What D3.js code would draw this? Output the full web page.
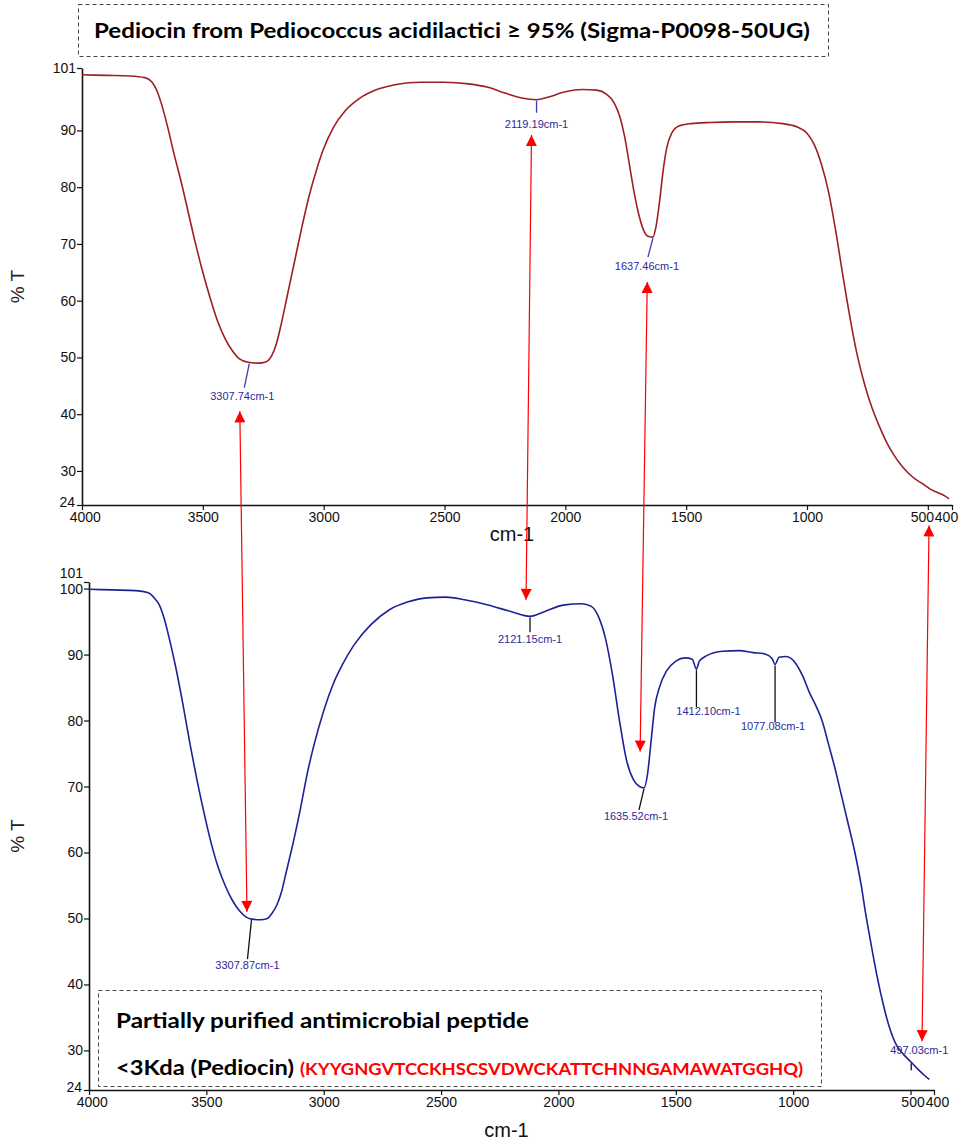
<!DOCTYPE html>
<html>
<head>
<meta charset="utf-8">
<script src="https://cdn.jsdelivr.net/npm/d3@7"></script>
<style>
  body { margin: 0; background: #fff; }
  svg { display: block; }
</style>
</head>
<body>
<svg id="chart" width="974" height="1141"></svg>
<script>
// wavenumber (cm-1), %T
var topSpectrum = [
  [4000,99.8],[3900,99.7],[3800,99.6],[3740,99.3],[3710,98.5],[3690,97],[3670,94.5],[3645,90.5],
  [3620,86],[3590,81],[3560,75.5],[3530,70],[3500,65],[3470,60.5],[3440,56.5],[3410,53.5],
  [3380,51.3],[3350,49.8],[3307.74,49.1],[3270,49],[3240,49.2],[3215,50.3],[3195,52.5],[3175,56],
  [3150,61],[3120,67],[3090,73],[3060,78.5],[3030,83],[3000,86.8],[2960,90.5],[2910,93.5],
  [2850,95.7],[2780,97.2],[2700,98.1],[2600,98.5],[2500,98.5],[2400,98.2],[2320,97.6],[2250,96.6],
  [2180,95.7],[2119.19,95.4],[2070,95.9],[2000,96.8],[1930,97.2],[1870,97.1],[1830,96.4],[1800,95],
  [1775,92.5],[1755,89],[1735,84],[1715,79],[1695,75],[1675,72.3],[1655,71.3],[1637.46,71.2],
  [1625,73],[1610,77.5],[1595,83],[1580,87],[1560,89.5],[1530,90.8],[1480,91.2],[1400,91.4],
  [1300,91.5],[1200,91.5],[1100,91.2],[1040,90.6],[1000,89.5],[970,87.5],[940,84],[910,79],
  [880,72],[850,64],[820,56.5],[790,50],[760,45],[730,41],[700,37.8],[670,35],[640,32.8],
  [610,31],[580,29.6],[550,28.5],[520,27.7],[490,26.8],[460,26.2],[430,25.6],[412,25.1]
];

var bottomSpectrum = [
  [4000,99.9],[3900,99.8],[3800,99.7],[3750,99.4],[3720,98.5],[3700,97.5],[3680,95.5],[3655,92],
  [3630,88],[3600,82.5],[3570,76.5],[3540,71],[3510,66],[3480,61.5],[3450,57.8],[3420,55],
  [3390,52.8],[3360,51.2],[3330,50.2],[3307.87,49.9],[3270,49.8],[3240,50],[3220,50.8],[3200,52],
  [3180,54],[3160,57],[3130,61.5],[3100,66.5],[3070,72],[3040,76.5],[3000,81.5],[2960,85.5],
  [2920,88.5],[2870,91.5],[2800,94.5],[2720,96.8],[2640,98],[2560,98.6],[2480,98.7],[2400,98.3],
  [2300,97.5],[2200,96.5],[2121.15,95.8],[2060,96.5],[1980,97.5],[1900,97.7],[1860,97.3],[1830,95.8],
  [1800,92.5],[1770,87],[1740,80],[1710,74],[1680,71],[1655,70],[1635.52,69.8],[1620,72],
  [1605,77],[1590,82],[1570,85],[1540,87.5],[1500,89],[1460,89.5],[1430,89.3],[1412.1,87.8],
  [1400,89],[1370,89.8],[1300,90.5],[1230,90.6],[1170,90.3],[1120,90.1],[1090,89.4],[1077.08,88.5],
  [1060,89.6],[1030,89.7],[990,88.7],[960,86.8],[930,84.2],[900,82],[877,80],[850,76.5],
  [820,72.5],[800,69.5],[770,65],[737,60],[710,55],[690,50.5],[665,45.5],[640,40.8],
  [615,36.8],[590,33.5],[560,30.8],[530,29.4],[497.03,28.2],[470,27.2],[440,26.2],[420,25.6]
];

var xTicks = [4000, 3500, 3000, 2500, 2000, 1500, 1000, 500, 400];
var topYTicks = [101, 90, 80, 70, 60, 50, 40, 30, 24];
var bottomYTicks = [101, 100, 90, 80, 70, 60, 50, 40, 30, 24];

var topPeaks = [3307.74, 2119.19, 1637.46];
var topPeakLabels = ["3307.74cm-1", "2119.19cm-1", "1637.46cm-1"];
var bottomPeaks = [3307.87, 2121.15, 1635.52, 1412.10, 1077.08, 497.03];
var bottomPeakLabels = ["3307.87cm-1", "2121.15cm-1", "1635.52cm-1", "1412.10cm-1", "1077.08cm-1", "497.03cm-1"];

// arrows: [top wn, top %T, bottom wn, bottom %T]
var arrowLinks = [
  [3347, 40.5, 3327, 51],
  [2140, 89.2, 2138, 98.3],
  [1661, 63.3, 1652, 75.3],
  [495, 20.4, 451, 31.4]
];

var svg = d3.select("#chart");

var topX = d3.scaleLinear().domain([4000, 400]).range([82, 952]);
var topY = d3.scaleLinear().domain([24, 101]).range([505, 68]);
var botX = d3.scaleLinear().domain([4000, 400]).range([89, 934]);
var botY = d3.scaleLinear().domain([24, 101]).range([1090, 582]);

var axisFont = "'Liberation Sans', Arial, sans-serif";
var boxFont = "Lato, 'Open Sans', sans-serif";

// title box
svg.append("rect").attr("x", 78.5).attr("y", 4.5).attr("width", 750).attr("height", 52)
  .attr("fill", "none").attr("stroke", "#444").attr("stroke-dasharray", "4,3");
svg.append("text").attr("x", 94).attr("y", 38)
  .attr("font-family", boxFont).attr("font-weight", "bold").attr("font-size", 20)
  .attr("textLength", 716).attr("lengthAdjust", "spacingAndGlyphs")
  .text("Pediocin from Pediococcus acidilactici \u2265 95% (Sigma-P0098-50UG)");

function drawPanel(x, y, yTicks, data, color, cmLabelY, shift500, shift400) {
  var g = svg.append("g");
  var yAxis = d3.axisLeft(y).tickValues(yTicks).tickFormat(d3.format("d")).tickSize(5).tickSizeOuter(0);
  var xAxis = d3.axisBottom(x).tickValues(xTicks).tickFormat(d3.format("d")).tickSize(5).tickSizeOuter(0);

  var ya = g.append("g").attr("transform", "translate(" + x.range()[0] + ",0)").call(yAxis);
  var xa = g.append("g").attr("transform", "translate(0," + y.range()[0] + ")").call(xAxis);

  [ya, xa].forEach(function(a) {
    a.select(".domain").attr("stroke", "#111").attr("stroke-width", 1.6);
    a.selectAll(".tick line").attr("stroke", "#111").attr("stroke-width", 1.2);
    a.selectAll("text").attr("font-family", axisFont).attr("font-size", 14).attr("fill", "#111");
  });
  ya.selectAll(".tick text").attr("x", -6);
  xa.selectAll(".tick text").attr("y", 7);

  // squeeze neighbouring labels like the instrument software does
  ya.selectAll(".tick text").filter(function(d) { return d === 101 && yTicks.indexOf(100) >= 0; }).attr("dy", "-0.3em");
  ya.selectAll(".tick text").filter(function(d) { return d === 24; }).attr("dy", "0.1em").attr("x", -7);
  xa.selectAll(".tick text").filter(function(d) { return d === 4000; }).attr("dx", "0.2em");
  xa.selectAll(".tick text").filter(function(d) { return d === 500; }).attr("dx", shift500);
  xa.selectAll(".tick text").filter(function(d) { return d === 400; }).attr("dx", shift400);

  var line = d3.line()
    .x(function(d) { return x(d[0]); })
    .y(function(d) { return y(d[1]); })
    .curve(d3.curveMonotoneX);
  g.append("path").datum(data).attr("d", line)
    .attr("fill", "none").attr("stroke", color).attr("stroke-width", 1.6);

  g.append("text")
    .attr("transform", "translate(24," + ((y.range()[0] + y.range()[1]) / 2) + ") rotate(-90)")
    .attr("text-anchor", "middle").attr("font-family", axisFont).attr("font-size", 19).attr("fill", "#222")
    .text("% T");
  g.append("text").attr("x", (x.range()[0] + x.range()[1]) / 2 - 5).attr("y", cmLabelY)
    .attr("text-anchor", "middle").attr("font-family", axisFont).attr("font-size", 20).attr("fill", "#111")
    .text("cm-1");
  return g;
}

function curveAt(data, wn) {
  var d = data.find(function(p) { return Math.abs(p[0] - wn) < 0.01; });
  return d ? d[1] : null;
}

var gTop = drawPanel(topX, topY, topYTicks, topSpectrum, "#9e1f22", 541, -6, -6);
var gBot = drawPanel(botX, botY, bottomYTicks, bottomSpectrum, "#1e2196", 1137, 2, 3);

// peak markers: [marker dx, marker dy, label dx, label dy]
function drawPeaks(g, x, y, data, peaks, labels, lay, markColor) {
  peaks.forEach(function(wn, i) {
    var px = x(wn), py = y(curveAt(data, wn));
    var L = lay[i];
    g.append("line").attr("x1", px).attr("y1", py + 1).attr("x2", px + L[0]).attr("y2", py + L[1])
      .attr("stroke", markColor).attr("stroke-width", 1.3);
    g.append("text").attr("x", px + L[2]).attr("y", py + L[3]).attr("text-anchor", "middle")
      .attr("font-family", axisFont).attr("font-size", 11).attr("fill", "#2a2a9c")
      .text(labels[i]);
  });
}

drawPeaks(gTop, topX, topY, topSpectrum, topPeaks, topPeakLabels,
  [[-5, 25, -7, 37], [0, 13, 0, 28], [-5, 20, -6, 33]], "#3b3bb0");
drawPeaks(gBot, botX, botY, bottomSpectrum, bottomPeaks, bottomPeakLabels,
  [[-4, 40, -4, 50], [0, 16, 0, 27], [-5, 22, -8, 32], [0, 38, 12, 46], [0, 58, -2, 66], [0, 8, 8, -8]], "#111");

// red double-headed arrows linking the two spectra
var defs = svg.append("defs");
["start", "end"].forEach(function(k) {
  defs.append("marker").attr("id", "head-" + k)
    .attr("viewBox", "0 0 10 10").attr("refX", 10).attr("refY", 5)
    .attr("markerWidth", 12).attr("markerHeight", 11).attr("markerUnits", "userSpaceOnUse")
    .attr("orient", k === "start" ? "auto-start-reverse" : "auto")
    .append("path").attr("d", "M0,0 L10,5 L0,10 Z").attr("fill", "#ff0000");
});
var arrowG = svg.append("g");
arrowLinks.forEach(function(a) {
  arrowG.append("line")
    .attr("x1", topX(a[0])).attr("y1", topY(a[1]))
    .attr("x2", botX(a[2])).attr("y2", botY(a[3]))
    .attr("stroke", "#ff0000").attr("stroke-width", 1.2)
    .attr("marker-start", "url(#head-start)").attr("marker-end", "url(#head-end)");
});

// description box
svg.append("rect").attr("x", 98.5).attr("y", 990.5).attr("width", 723).attr("height", 96)
  .attr("fill", "none").attr("stroke", "#444").attr("stroke-dasharray", "4,3");
svg.append("text").attr("x", 116).attr("y", 1028)
  .attr("font-family", boxFont).attr("font-weight", "bold").attr("font-size", 20)
  .attr("textLength", 413).attr("lengthAdjust", "spacingAndGlyphs")
  .text("Partially purified antimicrobial peptide");
svg.append("text").attr("x", 116).attr("y", 1075)
  .attr("font-family", boxFont).attr("font-weight", "bold").attr("font-size", 20)
  .attr("textLength", 178).attr("lengthAdjust", "spacingAndGlyphs")
  .text("<3Kda (Pediocin)");
svg.append("text").attr("x", 300).attr("y", 1075)
  .attr("font-family", boxFont).attr("font-weight", "bold").attr("font-size", 17).attr("fill", "#ff0000")
  .attr("textLength", 503).attr("lengthAdjust", "spacingAndGlyphs")
  .text("(KYYGNGVTCCKHSCSVDWCKATTCHNNGAMAWATGGHQ)");
</script>
</body>
</html>
